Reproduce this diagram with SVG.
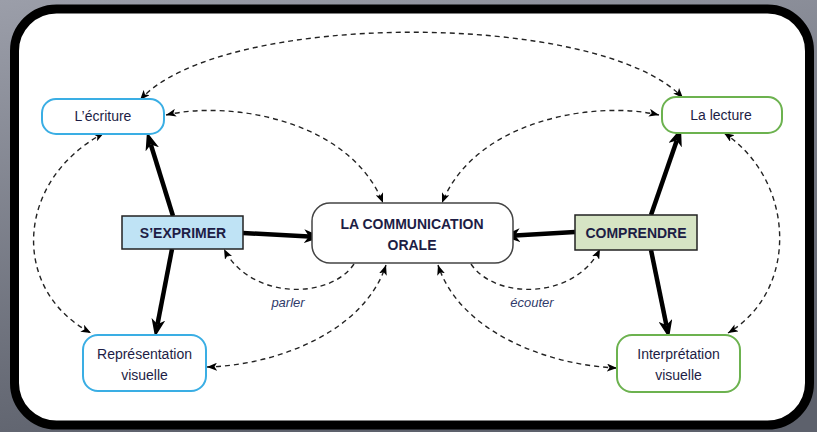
<svg xmlns="http://www.w3.org/2000/svg" width="817" height="432" viewBox="0 0 817 432">
  <defs>
    <linearGradient id="bg" x1="0" y1="0" x2="0.3" y2="1">
      <stop offset="0" stop-color="#9b9ea9"/>
      <stop offset="1" stop-color="#5d616c"/>
    </linearGradient>
    <marker id="big" markerUnits="userSpaceOnUse" markerWidth="18" markerHeight="14" refX="5" refY="7" orient="auto" viewBox="0 0 18 14">
      <path d="M0,0 L18,7 L0,14 L5,7 z" fill="#000"/>
    </marker>
    <marker id="sm" markerUnits="userSpaceOnUse" markerWidth="10" markerHeight="8" refX="10" refY="4" orient="auto-start-reverse" viewBox="0 0 10 8">
      <path d="M0,0 L10,4 L0,8 L2.5,4 z" fill="#000"/>
    </marker>
  </defs>
  <style>
    .lbl { font-family: "Liberation Sans", Arial, sans-serif; font-size: 14px; fill: #1d1d45; text-anchor: middle; }
    .b { font-weight: bold; }
    .it { font-family: "Liberation Sans", Arial, sans-serif; font-size: 13px; font-style: italic; fill: #2f3a6a; text-anchor: middle; }
    .blue { fill: #fff; stroke: #3aaee4; stroke-width: 2; }
    .green { fill: #fff; stroke: #6cb24f; stroke-width: 2; }
    .thick { fill: none; stroke: #000; stroke-width: 4.5; marker-end: url(#big); }
    .dash { fill: none; stroke: #222; stroke-width: 1.4; stroke-dasharray: 5 4; }
    .both { marker-start: url(#sm); marker-end: url(#sm); }
    .one { marker-end: url(#sm); }
  </style>
  <rect x="0" y="0" width="817" height="432" fill="url(#bg)"/>
  <rect x="14.5" y="9" width="795" height="416" rx="42" ry="42" fill="#fff" stroke="#000" stroke-width="9"/>

  <g id="connectors">
    <path class="thick" d="M173,216 L150.8,144.5"/>
    <path class="thick" d="M172,249 L157.5,324.2"/>
    <path class="thick" d="M243,233 L309,236.4"/>
    <path class="thick" d="M575,232 L515,235.4"/>
    <path class="thick" d="M651,215 L676.8,140.4"/>
    <path class="thick" d="M651,250 L666.4,325.2"/>

    <path class="dash both" d="M140,100 C220,10 600,10 683,98"/>
    <path class="dash both" d="M166,115 C230,100 350,120 383,203"/>
    <path class="dash both" d="M659,115 C595,100 475,120 442,203"/>
    <path class="dash both" d="M104,133 C15,180 10,290 91,333"/>
    <path class="dash both" d="M724,133 C795,180 800,290 728,333"/>
    <path class="dash both" d="M207,367 C280,365 365,330 386,265"/>
    <path class="dash both" d="M617,368 C544,365 459,330 438,265"/>
    <path class="dash one" d="M354,264 C330,300 250,300 224,249"/>
    <path class="dash one" d="M471,264 C495,300 575,300 600,249"/>
    <text class="it" x="288" y="307">parler</text>
    <text class="it" x="532" y="307">écouter</text>
  </g>

  <g id="ecriture">
    <rect class="blue" x="42" y="99" width="122" height="35" rx="14"/>
    <text class="lbl" x="103" y="121">L’écriture</text>
  </g>
  <g id="lecture">
    <rect class="green" x="662" y="97" width="120" height="36" rx="14"/>
    <text class="lbl" x="721" y="120">La lecture</text>
  </g>
  <g id="communication">
    <rect x="312" y="203" width="201" height="60" rx="18" fill="#fff" stroke="#444" stroke-width="1.5"/>
    <text class="lbl b" x="412" y="229">LA COMMUNICATION</text>
    <text class="lbl b" x="412" y="250">ORALE</text>
  </g>
  <g id="exprimer">
    <rect x="122" y="216" width="121" height="33" fill="#bfe3f5" stroke="#222" stroke-width="1.5"/>
    <text class="lbl b" x="183" y="238">S’EXPRIMER</text>
  </g>
  <g id="comprendre">
    <rect x="575" y="215" width="122" height="35" fill="#d6e4c4" stroke="#222" stroke-width="1.5"/>
    <text class="lbl b" x="636" y="238">COMPRENDRE</text>
  </g>
  <g id="representation">
    <rect class="blue" x="83" y="335" width="123" height="56" rx="15"/>
    <text class="lbl" x="144.5" y="359">Représentation</text>
    <text class="lbl" x="144.5" y="380">visuelle</text>
  </g>
  <g id="interpretation">
    <rect class="green" x="617" y="335" width="123" height="57" rx="15"/>
    <text class="lbl" x="678.5" y="359">Interprétation</text>
    <text class="lbl" x="678.5" y="380">visuelle</text>
  </g>
</svg>
